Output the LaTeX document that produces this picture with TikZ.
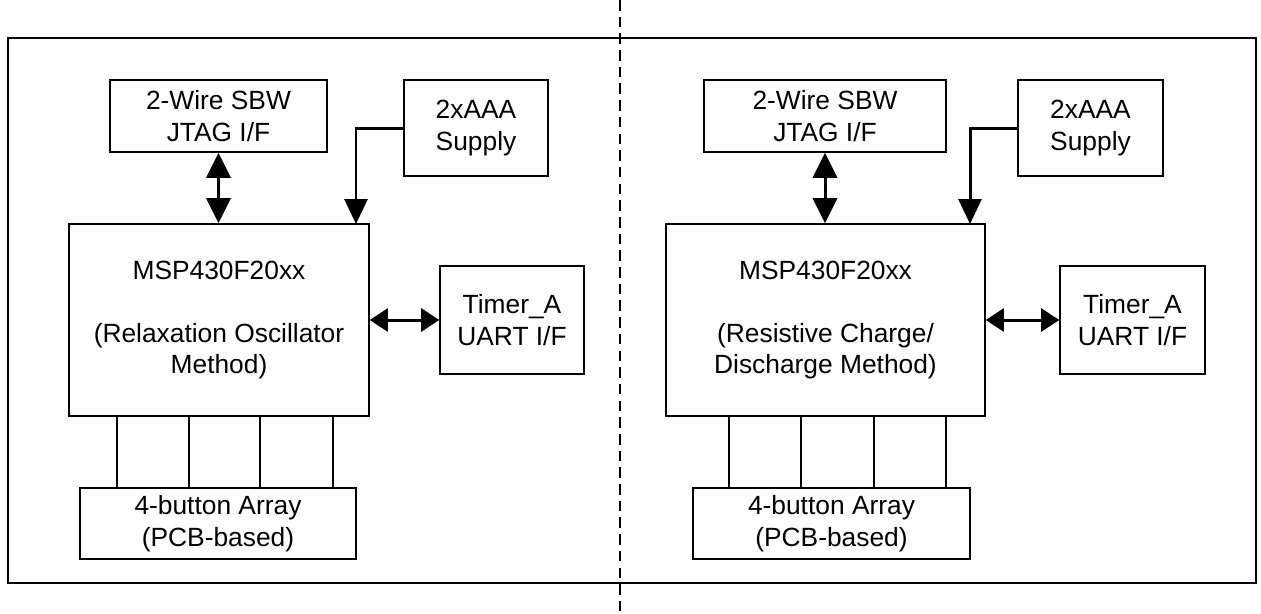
\documentclass[tikz,border=0pt]{standalone}
\usepackage{fontspec}
\setmainfont{Liberation Sans}
\usetikzlibrary{arrows.meta,positioning,calc}

\tikzset{
  blk/.style={draw, line width=0.9pt, inner sep=0pt, align=center, font=\fontsize{15}{18}\selectfont},
  biv/.style={line width=1.7pt, {Triangle[length=0.5cm,width=0.48cm]}-{Triangle[length=0.5cm,width=0.48cm]}},
  bih/.style={line width=1.7pt, {Triangle[length=0.36cm,width=0.46cm]}-{Triangle[length=0.36cm,width=0.46cm]}},
  pwr/.style={line width=1.7pt, -{Triangle[length=0.5cm,width=0.46cm]}},
  bus/.style={line width=0.9pt}
}

\begin{document}
\begin{tikzpicture}[x=0.02cm,y=-0.02cm]
    \useasboundingbox (0,0) rectangle (1261,613);

    % Frame and divider
    \draw [line width=0.9pt] (8,38) rectangle (1256,583);
    \draw [line width=0.8pt, dash pattern=on 6pt off 3.5pt] (620,0) -- (620,613);

    % Left: relaxation oscillator
    \node [blk, minimum width=4.34cm, minimum height=1.44cm] (jtagL) at (218.5,116) {2-Wire SBW\\JTAG I/F};
    \node [blk, minimum width=2.88cm, minimum height=1.92cm] (supL) at (476,128) {2xAAA\\Supply};
    \node [blk, minimum width=6cm, minimum height=3.84cm] (mcuL) at (219,320) {MSP430F20xx\\[18pt](Relaxation Oscillator\\Method)};
    \node [blk, minimum width=2.88cm, minimum height=2.16cm] (timL) at (512,320) {Timer\_A\\UART I/F};
    \node [blk, minimum width=5.52cm, minimum height=1.42cm] (btnL) at (218,523.5) {4-button Array\\(PCB-based)};
    \coordinate (pinL) at (356,224);

    \draw [biv] (jtagL.south) -- (jtagL.south |- mcuL.north);
    \draw [pwr] (supL.west) -| (pinL);
    \draw [bih] (mcuL.east) -- (timL.west);
    \foreach \x in {117,189,260,333}
        \draw [bus] (mcuL.south -| \x,0) -- (btnL.north -| \x,0);

    % Right: resistive charge/discharge
    \node [blk, minimum width=4.84cm, minimum height=1.44cm] (jtagR) at (825,116) {2-Wire SBW\\JTAG I/F};
    \node [blk, minimum width=2.9cm, minimum height=1.92cm] (supR) at (1090.5,128) {2xAAA\\Supply};
    \node [blk, minimum width=6.38cm, minimum height=3.84cm] (mcuR) at (825.5,320) {MSP430F20xx\\[18pt](Resistive Charge/\\Discharge Method)};
    \node [blk, minimum width=2.9cm, minimum height=2.16cm] (timR) at (1132.5,320) {Timer\_A\\UART I/F};
    \node [blk, minimum width=5.54cm, minimum height=1.42cm] (btnR) at (831.5,523.5) {4-button Array\\(PCB-based)};
    \coordinate (pinR) at (970,224);

    \draw [biv] (jtagR.south) -- (jtagR.south |- mcuR.north);
    \draw [pwr] (supR.west) -| (pinR);
    \draw [bih] (mcuR.east) -- (timR.west);
    \foreach \x in {729,801,874,946}
        \draw [bus] (mcuR.south -| \x,0) -- (btnR.north -| \x,0);
\end{tikzpicture}
\end{document}
